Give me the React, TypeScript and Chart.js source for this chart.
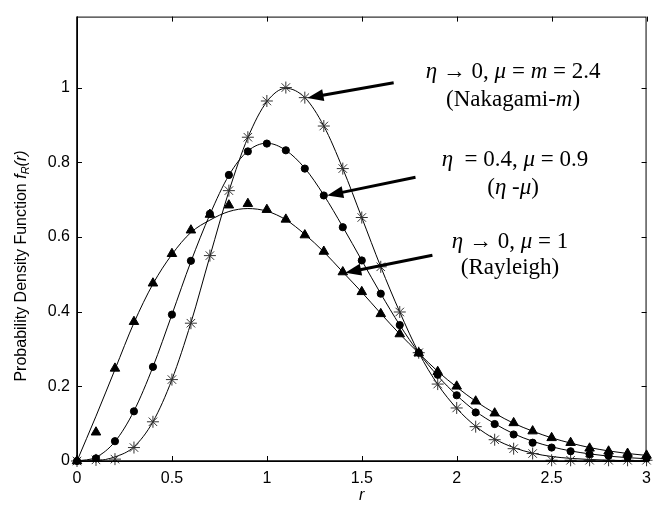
import React, { useEffect, useRef } from 'react';
import { Chart, registerables } from 'chart.js';

Chart.register(...registerables);

const R = [0, 0.1, 0.2, 0.3, 0.4, 0.5, 0.6, 0.7, 0.8, 0.9, 1.0, 1.1, 1.2, 1.3, 1.4, 1.5, 1.6, 1.7, 1.8, 1.9, 2.0, 2.1, 2.2, 2.3, 2.4, 2.5, 2.6, 2.7, 2.8, 2.9, 3.0];

const RAYLEIGH_MARKERS = [0, 0.077, 0.248, 0.373, 0.476, 0.555, 0.618, 0.66, 0.685, 0.689, 0.673, 0.647, 0.605, 0.561, 0.506, 0.453, 0.394, 0.34, 0.289, 0.239, 0.2, 0.16, 0.128, 0.102, 0.08, 0.062, 0.049, 0.034, 0.026, 0.02, 0.015];
const RAYLEIGH_LINE = [0, 0.12, 0.245, 0.37, 0.474, 0.553, 0.612, 0.645, 0.668, 0.676, 0.669, 0.646, 0.607, 0.56, 0.506, 0.452, 0.395, 0.34, 0.289, 0.24, 0.198, 0.16, 0.128, 0.101, 0.08, 0.062, 0.048, 0.036, 0.027, 0.02, 0.015];

const ETAMU_MARKERS = [0, 0.007, 0.053, 0.133, 0.252, 0.392, 0.536, 0.662, 0.766, 0.829, 0.85, 0.832, 0.783, 0.711, 0.626, 0.537, 0.448, 0.364, 0.29, 0.231, 0.176, 0.13, 0.099, 0.071, 0.049, 0.036, 0.026, 0.018, 0.014, 0.01, 0.007];
const ETAMU_LINE = [0, 0.01, 0.052, 0.134, 0.252, 0.392, 0.534, 0.66, 0.765, 0.83, 0.851, 0.832, 0.784, 0.712, 0.627, 0.537, 0.448, 0.364, 0.29, 0.228, 0.176, 0.133, 0.1, 0.073, 0.053, 0.038, 0.027, 0.019, 0.013, 0.009, 0.006];

const NAKAGAMI_MARKERS = [0, 0.003, 0.005, 0.036, 0.105, 0.218, 0.369, 0.55, 0.724, 0.867, 0.964, 1.0, 0.973, 0.897, 0.783, 0.652, 0.52, 0.399, 0.29, 0.206, 0.142, 0.092, 0.057, 0.033, 0.02, 0.002, 0.002, 0.002, 0.002, 0.002, 0.002];
const NAKAGAMI_LINE = [0, 0.001, 0.011, 0.038, 0.105, 0.218, 0.37, 0.548, 0.722, 0.866, 0.962, 0.998, 0.973, 0.897, 0.783, 0.652, 0.52, 0.399, 0.29, 0.205, 0.141, 0.093, 0.059, 0.036, 0.021, 0.012, 0.007, 0.004, 0.002, 0.001, 0.0005];

const X_TICKS = [0, 0.5, 1, 1.5, 2, 2.5, 3];
const X_TICK_LABELS = ['0', '0.5', '1', '1.5', '2', '2.5', '3'];
const Y_TICKS = [0, 0.2, 0.4, 0.6, 0.8, 1];
const Y_TICK_LABELS = ['0', '0.2', '0.4', '0.6', '0.8', '1'];
const X_MIN = 0;
const X_MAX = 3;
const Y_MIN = 0;
const Y_MAX = 1.19;

type Seg = { t: string; i?: boolean };
const ANNOTATIONS: { lines: { segs: Seg[]; x: number; y: number }[]; from: [number, number]; to: [number, number] }[] = [
  {
    lines: [
      { segs: [{ t: 'η', i: true }, { t: ' → 0, ' }, { t: 'μ', i: true }, { t: ' = ' }, { t: 'm', i: true }, { t: ' = 2.4' }], x: 2.297, y: 1.042 },
      { segs: [{ t: '(Nakagami-' }, { t: 'm', i: true }, { t: ')' }], x: 2.297, y: 0.968 },
    ],
    from: [1.668, 1.013],
    to: [1.214, 0.972],
  },
  {
    lines: [
      { segs: [{ t: 'η', i: true }, { t: '  = 0.4, ' }, { t: 'μ', i: true }, { t: ' = 0.9' }], x: 2.307, y: 0.805 },
      { segs: [{ t: '(' }, { t: 'η', i: true }, { t: ' -' }, { t: 'μ', i: true }, { t: ')' }], x: 2.297, y: 0.732 },
    ],
    from: [1.783, 0.76],
    to: [1.318, 0.711],
  },
  {
    lines: [
      { segs: [{ t: 'η', i: true }, { t: ' → 0, ' }, { t: 'μ', i: true }, { t: ' = 1' }], x: 2.281, y: 0.587 },
      { segs: [{ t: '(Rayleigh)' }], x: 2.281, y: 0.516 },
    ],
    from: [1.872, 0.551],
    to: [1.413, 0.504],
  },
];

const SANS = '"Liberation Sans", Arial, sans-serif';
const SERIF = '"Liberation Serif", "Times New Roman", serif';
const ANN_SIZE = 23;

const pts = (vals: number[]) => R.map((r, i) => ({ x: r, y: vals[i] }));

const overlay = {
  id: 'overlay',
  afterDraw(chart: any) {
    const { ctx, chartArea: a, scales } = chart;
    const xs = scales.x;
    const ys = scales.y;
    ctx.save();
    ctx.strokeStyle = '#000';
    ctx.fillStyle = '#000';
    // frame
    ctx.lineWidth = 1;
    ctx.strokeRect(a.left + 0.5, a.top + 0.5, a.right - a.left - 1, a.bottom - a.top);
    ctx.lineWidth = 1.6;
    ctx.beginPath();
    ctx.moveTo(a.left, a.bottom);
    ctx.lineTo(a.right, a.bottom);
    ctx.moveTo(a.left, a.top);
    ctx.lineTo(a.left, a.bottom);
    ctx.stroke();
    // inward ticks
    const TL = 5;
    ctx.lineWidth = 1;
    ctx.beginPath();
    for (const v of X_TICKS) {
      const px = Math.round(xs.getPixelForValue(v)) + 0.5;
      ctx.moveTo(px, a.bottom);
      ctx.lineTo(px, a.bottom - TL);
      ctx.moveTo(px, a.top);
      ctx.lineTo(px, a.top + TL);
    }
    for (const v of Y_TICKS) {
      const py = Math.round(ys.getPixelForValue(v)) + 0.5;
      ctx.moveTo(a.left, py);
      ctx.lineTo(a.left + TL, py);
      ctx.moveTo(a.right, py);
      ctx.lineTo(a.right - TL, py);
    }
    ctx.stroke();

    // x title
    ctx.font = `italic 16px ${SANS}`;
    ctx.textAlign = 'center';
    ctx.textBaseline = 'middle';
    ctx.fillText('r', (a.left + a.right) / 2, 496);

    // y title (rotated, mixed styles)
    const ySegs = [
      { t: 'Probability Density Function ', f: `16px ${SANS}`, dy: 0 },
      { t: 'f', f: `italic 16px ${SANS}`, dy: 0 },
      { t: 'R', f: `italic 11px ${SANS}`, dy: 4 },
      { t: '(r)', f: `italic 16px ${SANS}`, dy: 0 },
    ];
    let total = 0;
    for (const s of ySegs) {
      ctx.font = s.f;
      total += ctx.measureText(s.t).width;
    }
    ctx.save();
    ctx.translate(22, 266);
    ctx.rotate(-Math.PI / 2);
    ctx.textAlign = 'left';
    ctx.textBaseline = 'middle';
    let cx = -total / 2;
    for (const s of ySegs) {
      ctx.font = s.f;
      ctx.fillText(s.t, cx, s.dy);
      cx += ctx.measureText(s.t).width;
    }
    ctx.restore();

    // annotations
    for (const an of ANNOTATIONS) {
      for (const ln of an.lines) {
        let w = 0;
        for (const s of ln.segs) {
          ctx.font = `${s.i ? 'italic ' : ''}${ANN_SIZE}px ${SERIF}`;
          w += ctx.measureText(s.t).width;
        }
        let tx = xs.getPixelForValue(ln.x) - w / 2;
        const ty = ys.getPixelForValue(ln.y);
        ctx.textAlign = 'left';
        ctx.textBaseline = 'middle';
        for (const s of ln.segs) {
          ctx.font = `${s.i ? 'italic ' : ''}${ANN_SIZE}px ${SERIF}`;
          ctx.fillText(s.t, tx, ty);
          tx += ctx.measureText(s.t).width;
        }
      }
      const x1 = xs.getPixelForValue(an.from[0]);
      const y1 = ys.getPixelForValue(an.from[1]);
      const x2 = xs.getPixelForValue(an.to[0]);
      const y2 = ys.getPixelForValue(an.to[1]);
      const ang = Math.atan2(y2 - y1, x2 - x1);
      const HL = 16;
      const HW = 6;
      const bx = x2 - HL * Math.cos(ang);
      const by = y2 - HL * Math.sin(ang);
      ctx.lineWidth = 3;
      ctx.beginPath();
      ctx.moveTo(x1, y1);
      ctx.lineTo(bx + 2 * Math.cos(ang), by + 2 * Math.sin(ang));
      ctx.stroke();
      ctx.beginPath();
      ctx.moveTo(x2, y2);
      ctx.lineTo(bx + HW * Math.sin(ang), by - HW * Math.cos(ang));
      ctx.lineTo(bx - HW * Math.sin(ang), by + HW * Math.cos(ang));
      ctx.closePath();
      ctx.fill();
    }
    ctx.restore();
  },
};

export default function App() {
  const ref = useRef<HTMLCanvasElement | null>(null);
  useEffect(() => {
    if (!ref.current) return;
    const lineDs = (vals: number[]) => ({
      type: 'line' as const,
      data: pts(vals),
      borderColor: '#000',
      borderWidth: 1,
      pointRadius: 0,
      fill: false,
      cubicInterpolationMode: 'monotone' as const,
      order: 2,
    });
    const markerDs = (vals: number[], style: string, radius: number, color: string, bw: number) => ({
      type: 'line' as const,
      data: pts(vals),
      showLine: false,
      pointStyle: style,
      pointRadius: radius,
      pointBackgroundColor: color,
      pointBorderColor: color,
      pointBorderWidth: bw,
      clip: false as any,
      order: 1,
    });
    const chart = new Chart(ref.current, {
      type: 'line',
      data: {
        datasets: [
          lineDs(RAYLEIGH_LINE),
          lineDs(ETAMU_LINE),
          lineDs(NAKAGAMI_LINE),
          markerDs(RAYLEIGH_MARKERS, 'triangle', 5.5, '#000', 1),
          markerDs(ETAMU_MARKERS, 'circle', 3.6, '#000', 1),
          markerDs(NAKAGAMI_MARKERS, 'star', 6, '#333', 1),
        ] as any,
      },
      options: {
        animation: false,
        responsive: false,
        layout: { padding: { left: 0, right: 6, top: 8, bottom: 0 } },
        plugins: { legend: { display: false }, tooltip: { enabled: false } },
        scales: {
          x: {
            type: 'linear',
            min: X_MIN,
            max: X_MAX,
            afterBuildTicks: (s: any) => {
              s.ticks = X_TICKS.map((v) => ({ value: v }));
            },
            afterFit: (s: any) => {
              s.height = 49;
            },
            grid: { display: false, drawTicks: false },
            border: { display: false },
            ticks: {
              padding: 8,
              color: '#000',
              autoSkip: false,
              maxRotation: 0,
              font: { family: SANS, size: 16 },
              callback: (v: any) => X_TICK_LABELS[X_TICKS.indexOf(Number(v))] ?? '',
            },
          },
          y: {
            type: 'linear',
            min: Y_MIN,
            max: Y_MAX,
            afterBuildTicks: (s: any) => {
              s.ticks = Y_TICKS.map((v) => ({ value: v }));
            },
            afterFit: (s: any) => {
              s.width = 77;
            },
            grid: { display: false, drawTicks: false },
            border: { display: false },
            ticks: {
              padding: 7,
              color: '#000',
              autoSkip: false,
              font: { family: SANS, size: 16 },
              callback: (v: any) => Y_TICK_LABELS[Y_TICKS.indexOf(Number(v))] ?? '',
            },
          },
        },
      },
      plugins: [overlay],
    });
    return () => chart.destroy();
  }, []);
  return (
    <div style={{ position: 'fixed', left: 0, top: 0, width: 659, height: 510, background: '#fff' }}>
      <canvas ref={ref} width={659} height={510} style={{ display: 'block' }} />
    </div>
  );
}
